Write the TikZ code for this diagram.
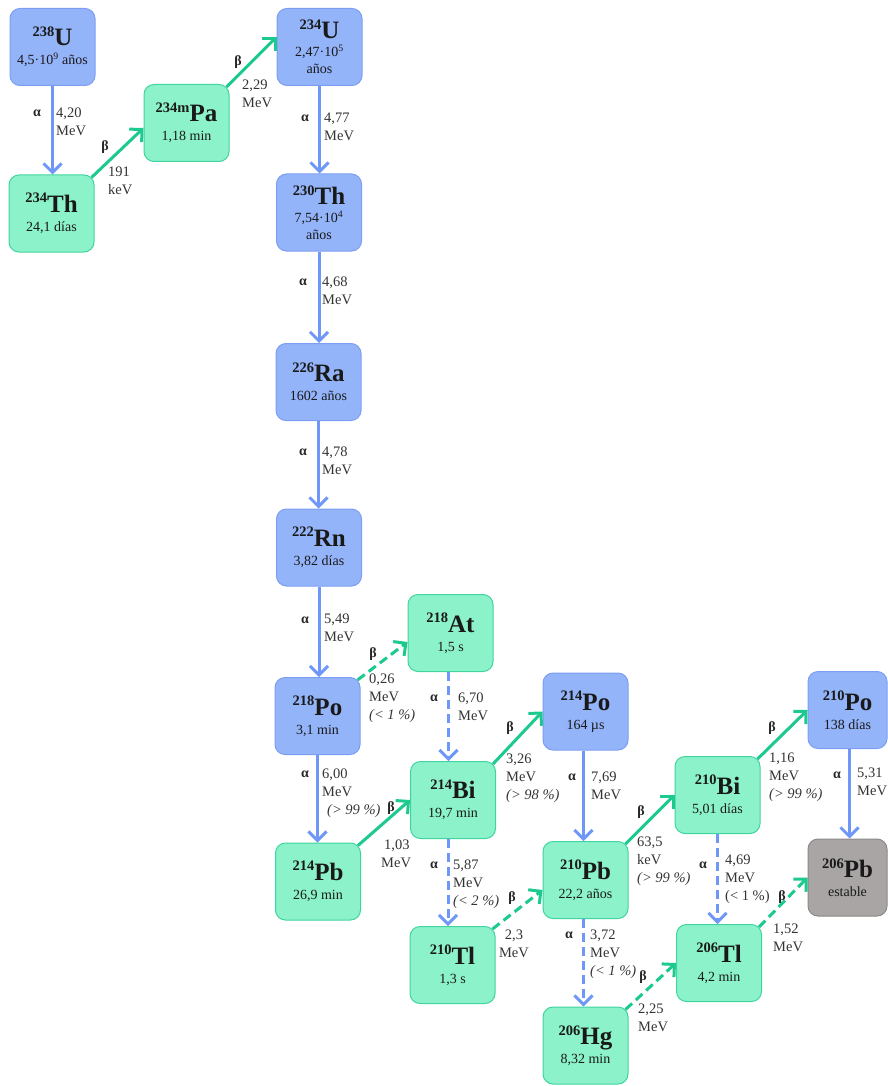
\documentclass[tikz,border=0pt]{standalone}
\usepackage{fontspec}
\setmainfont{Liberation Serif}
\usetikzlibrary{arrows.meta}

\definecolor{blueFill}{HTML}{94B4FA}
\definecolor{blueLine}{HTML}{7C9EF2}
\definecolor{greenFill}{HTML}{8CF2C9}
\definecolor{greenLine}{HTML}{40D4A0}
\definecolor{grayFill}{HTML}{A9A5A5}
\definecolor{grayLine}{HTML}{8C8888}
\definecolor{alphaCol}{HTML}{6E97F7}
\definecolor{betaCol}{HTML}{1CC98E}
\definecolor{labelCol}{HTML}{333333}

% nuclide symbol: mass number as a raised prefix, element in large bold
\newcommand{\nuc}[2]{{\fontsize{14.5}{14.5}\selectfont\bfseries\raisebox{9.5pt}{#1}}{\fontsize{25}{25}\selectfont\bfseries #2}}

\tikzset{
  nuclide/.style={rounded corners=10pt, minimum width=85pt, minimum height=77pt,
    inner sep=0pt, align=center, line width=1pt, text=black!90,
    font=\fontsize{14}{17}\selectfont},
  bluebox/.style={nuclide, fill=blueFill, draw=blueLine},
  greenbox/.style={nuclide, fill=greenFill, draw=greenLine},
  graybox/.style={nuclide, fill=grayFill, draw=grayLine},
  tip/.style={-{Straight Barb[length=9pt,width=18pt]}},
  alphadecay/.style={tip, draw=alphaCol, line width=3pt},
  betadecay/.style={tip, draw=betaCol, line width=3pt},
  minor/.style={dash pattern=on 9pt off 5pt},
  energy/.style={font=\fontsize{14.5}{18}\selectfont, text=labelCol, align=left,
    inner sep=0pt, anchor=north west},
  greek/.style={font=\fontsize{14}{14}\selectfont\bfseries, text=black!85, inner sep=0pt}
}

\begin{document}
\begin{tikzpicture}[x=1pt, y=-1pt]
\useasboundingbox (0,0) rectangle (888,1086);

% ---- nuclides ----
\node[bluebox]  (U238)   at (52.5,47)    {\nuc{238}{U}\\[2pt]4,5·10\textsuperscript{9} años};
\node[greenbox] (Th234)  at (51.5,213.5) {\nuc{234}{Th}\\[2pt]24,1 días};
\node[greenbox] (Pa234m) at (186.5,123)  {\nuc{234m}{Pa}\\[2pt]1,18 min};
\node[bluebox]  (U234)   at (319.5,47)   {\nuc{234}{U}\\[1pt]2,47·10\textsuperscript{5}\\años};
\node[bluebox]  (Th230)  at (319,212.5)  {\nuc{230}{Th}\\[1pt]7,54·10\textsuperscript{4}\\años};
\node[bluebox]  (Ra226)  at (318.5,382)  {\nuc{226}{Ra}\\[2pt]1602 años};
\node[bluebox]  (Rn222)  at (319,547.5)  {\nuc{222}{Rn}\\[2pt]3,82 días};
\node[bluebox]  (Po218)  at (317.5,716)  {\nuc{218}{Po}\\[2pt]3,1 min};
\node[greenbox] (Pb214)  at (318,881.5)  {\nuc{214}{Pb}\\[2pt]26,9 min};
\node[greenbox] (At218)  at (450.5,633)  {\nuc{218}{At}\\[2pt]1,5 s};
\node[greenbox] (Bi214)  at (453,800)    {\nuc{214}{Bi}\\[2pt]19,7 min};
\node[greenbox] (Tl210)  at (452.5,965)  {\nuc{210}{Tl}\\[2pt]1,3 s};
\node[bluebox]  (Po214)  at (585.5,711.5){\nuc{214}{Po}\\[2pt]164 µs};
\node[greenbox] (Pb210)  at (585.5,880)  {\nuc{210}{Pb}\\[2pt]22,2 años};
\node[greenbox] (Hg206)  at (585.5,1045.5){\nuc{206}{Hg}\\[2pt]8,32 min};
\node[greenbox] (Bi210)  at (717.5,795)  {\nuc{210}{Bi}\\[2pt]5,01 días};
\node[greenbox] (Tl206)  at (719,963)    {\nuc{206}{Tl}\\[2pt]4,2 min};
\node[bluebox, minimum width=79pt] (Po210) at (847.5,710)   {\nuc{210}{Po}\\[2pt]138 días};
\node[graybox, minimum width=79pt] (Pb206) at (847.5,877.5) {\nuc{206}{Pb}\\[2pt]estable};

% ---- alpha decays (vertical) ----
\draw[alphadecay] (U238.south)  -- (U238.south |- Th234.north);
\draw[alphadecay] (U234.south)  -- (U234.south |- Th230.north);
\draw[alphadecay] (Th230.south) -- (Th230.south |- Ra226.north);
\draw[alphadecay] (Ra226.south) -- (Ra226.south |- Rn222.north);
\draw[alphadecay] (Rn222.south) -- (Rn222.south |- Po218.north);
\draw[alphadecay] (Po218.south) -- (Po218.south |- Pb214.north);
\draw[alphadecay, minor] ([xshift=-2pt]At218.south) -- ([xshift=-2pt]At218.south |- Bi214.north);
\draw[alphadecay, minor] ([xshift=-5pt]Bi214.south) -- ([xshift=-5pt]Bi214.south |- Tl210.north);
\draw[alphadecay] ([xshift=-2pt]Po214.south) -- ([xshift=-2pt]Po214.south |- Pb210.north);
\draw[alphadecay, minor] ([xshift=-2pt]Pb210.south) -- ([xshift=-2pt]Pb210.south |- Hg206.north);
\draw[alphadecay, minor] (Bi210.south) -- (Bi210.south |- Tl206.north);
\draw[alphadecay] ([xshift=2pt]Po210.south) -- ([xshift=2pt]Po210.south |- Pb206.north);

% ---- beta decays (diagonal) ----
\draw[betadecay] ([xshift=-3pt,yshift=-3pt]Th234.north east)  -- ([yshift=-5pt]Pa234m.west);
\draw[betadecay] ([xshift=-3pt,yshift=-3pt]Pa234m.north east) -- ([yshift=10pt]U234.west);
\draw[betadecay, minor] ([xshift=-3pt,yshift=-3pt]Po218.north east) -- ([yshift=-9pt]At218.west);
\draw[betadecay] ([xshift=-3pt,yshift=-3pt]Pb214.north east) -- (Bi214.west);
\draw[betadecay] ([xshift=-3pt,yshift=-3pt]Bi214.north east) -- (Po214.west);
\draw[betadecay, minor] ([xshift=-3pt,yshift=-3pt]Tl210.north east) -- ([yshift=-10pt]Pb210.west);
\draw[betadecay] ([xshift=-3pt,yshift=-3pt]Pb210.north east) -- (Bi210.west);
\draw[betadecay, minor] ([xshift=-3pt,yshift=-3pt]Hg206.north east) -- (Tl206.west);
\draw[betadecay] ([xshift=-3pt,yshift=-3pt]Bi210.north east) -- (Po210.west);
\draw[betadecay, minor] ([xshift=-3pt,yshift=-3pt]Tl206.north east) -- (Pb206.west);

% ---- decay labels ----
\node[greek] (a1) at (37,113) {α};
\node[energy] (e1) at (56,108) {4,20\\MeV};
\node[greek] (b1) at (105,147) {β};
\node[energy] (e2) at (108,167) {191\\keV};
\node[greek] (b2) at (238,62) {β};
\node[energy] (e3) at (242,80) {2,29\\MeV};
\node[greek] (a2) at (305,118) {α};
\node[energy] (e4) at (324,113) {4,77\\MeV};
\node[greek] (a3) at (303,282) {α};
\node[energy] (e5) at (322,277) {4,68\\MeV};
\node[greek] (a4) at (303,452) {α};
\node[energy] (e6) at (322,447) {4,78\\MeV};
\node[greek] (a5) at (305,620) {α};
\node[energy] (e7) at (324,614) {5,49\\MeV};
\node[greek] (b3) at (373,654) {β};
\node[energy] (e8) at (369,674) {0,26\\MeV\\\textit{(< 1 \%)}};
\node[greek] (a6) at (434,698) {α};
\node[energy] (e9) at (458,693) {6,70\\MeV};
\node[greek] (a7) at (305,774) {α};
\node[energy] (e10) at (322,769) {6,00\\MeV\\\hspace*{5pt}\textit{(> 99 \%)}};
\node[greek] (b4) at (391,808) {β};
\node[energy] (e11) at (381,840) {\hspace*{3pt}1,03\\MeV};
\node[greek] (b5) at (510,728) {β};
\node[energy] (e12) at (506,754) {3,26\\MeV\\\textit{(> 98 \%)}};
\node[greek] (a8) at (434,865) {α};
\node[energy] (e13) at (453,860) {5,87\\MeV\\\textit{(< 2 \%)}};
\node[greek] (b6) at (512,898) {β};
\node[energy, align=center, anchor=north] (e14) at (514,930) {2,3\\MeV};
\node[greek] (a9) at (572,777) {α};
\node[energy] (e15) at (591,772) {7,69\\MeV};
\node[greek] (a10) at (569,935) {α};
\node[energy] (e16) at (590,930) {3,72\\MeV\\\textit{(< 1 \%)}};
\node[greek] (b7) at (643,977) {β};
\node[energy] (e17) at (638,1004) {2,25\\MeV};
\node[greek] (b8) at (641,812) {β};
\node[energy] (e18) at (637,837) {63,5\\keV\\\textit{(> 99 \%)}};
\node[greek] (b9) at (772,728) {β};
\node[energy] (e19) at (769,753) {1,16\\MeV\\\textit{(> 99 \%)}};
\node[greek] (a11) at (703,865) {α};
\node[energy] (e20) at (725,855) {4,69\\MeV\\(< 1 \%)};
\node[greek] (b10) at (782,897) {β};
\node[energy] (e21) at (773,924) {1,52\\MeV};
\node[greek] (a12) at (837,775) {α};
\node[energy] (e22) at (857,768) {5,31\\MeV};
\end{tikzpicture}
\end{document}
